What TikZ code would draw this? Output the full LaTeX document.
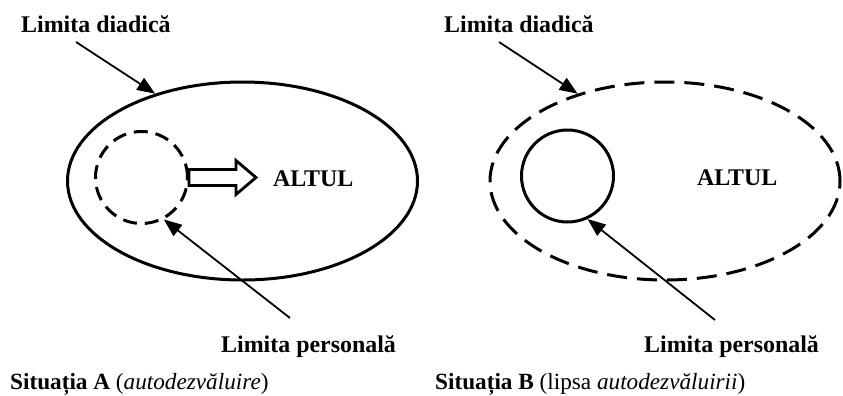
\documentclass[tikz,border=0pt]{standalone}
\usepackage{fontspec}
\setmainfont{Liberation Serif}
\usetikzlibrary{shapes.geometric,arrows.meta}
\begin{document}
\begin{tikzpicture}[x=1bp,y=-1bp,
  lbl/.style={anchor=base west,inner sep=0pt,font=\fontsize{24}{28}\selectfont\bfseries},
  captiontext/.style={anchor=base west,inner sep=0pt,font=\fontsize{23.3}{27}\selectfont},
  bigell/.style={draw,ellipse,line width=3bp,minimum width=350bp,minimum height=198bp,inner sep=0pt},
  selfc/.style={draw,circle,line width=3bp,minimum size=92bp,inner sep=0pt},
  ellpat/.style={dash pattern=on 20bp off 10bp},
  cirpat/.style={dash pattern=on 14bp off 8bp},
  ptr/.style={line width=1.8bp,-{Triangle[length=18bp,width=14bp]}},
  openarrow/.style={draw,line width=2.8bp,line join=miter}]
\useasboundingbox (0,0) rectangle (843,395);
% Situatia A
\node[bigell] (ea) at (242.5,181) {};
\node[selfc,cirpat] (ca) at (141.5,177.5) {};
\node[lbl] (altA) at (273,186) {ALTUL};
\node[lbl] (ldA) at (21,32) {Limita diadică};
\node[lbl] (lpA) at (221,352) {Limita personală};
\coordinate (sdA) at (76,42);
\coordinate (spA) at (290,318);
\draw[ptr] (sdA) -- (ea.135);
\draw[ptr] (spA) -- (ca.-62);
\draw[openarrow] (ca.east) ++(0,-8) -- ++(47,0) -- ++(0,-9) -- ++(20,17) -- ++(-20,17) -- ++(0,-9) -- ++(-47,0) -- cycle;
\node[captiontext] (sA) at (10,389) {\textbf{Situația A} (\textit{autodezvăluire})};
% Situatia B
\node[bigell,ellpat] (eb) at (665,181) {};
\node[selfc] (cb) at (567.5,176) {};
\node[lbl] (altB) at (697,185) {ALTUL};
\node[lbl] (ldB) at (444,32) {Limita diadică};
\node[lbl] (lpB) at (644,352) {Limita personală};
\coordinate (sdB) at (499,42);
\coordinate (spB) at (715,320);
\draw[ptr] (sdB) -- (eb.135);
\draw[ptr] (spB) -- (cb.-65);
\node[captiontext] (sB) at (435,389) {\textbf{Situația B} (lipsa \textit{autodezvăluirii})};
\end{tikzpicture}
\end{document}
